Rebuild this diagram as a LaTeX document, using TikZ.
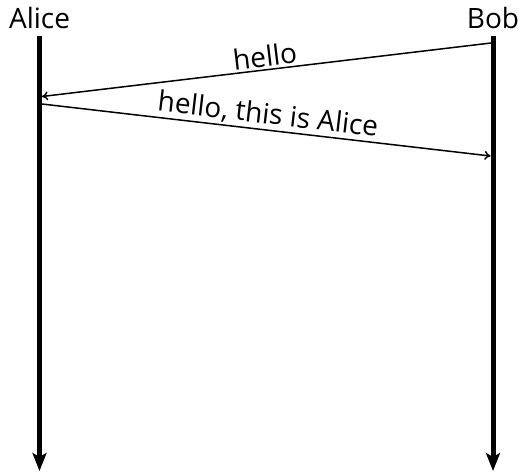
\documentclass[tikz,border=0pt]{standalone}
\usepackage{fontspec}
\setmainfont{Open Sans}
\usetikzlibrary{arrows.meta}
\tikzset{
  actor/.style={anchor=base, inner sep=0pt, font=\fontsize{28}{34}\selectfont},
  lifeline/.style={line width=5pt, -{Stealth[length=18pt, width=14pt, inset=4pt]}},
  message/.style={line width=1.5pt, -{To[length=6pt, width=9pt]}},
  msglabel/.style={midway, above, sloped, inner sep=2pt, font=\fontsize{28}{34}\selectfont}
}
\begin{document}
\begin{tikzpicture}[x=1pt, y=-1pt]
    \useasboundingbox (0,0) rectangle (522,474);

    \node[actor] (alice) at (39.5,28) {Alice};
    \node[actor] (bob) at (493,28) {Bob};

    \coordinate (aliceTop) at (39.5,36);
    \coordinate (bobTop) at (493,36);
    \coordinate (aliceEnd) at (39.5,471);
    \coordinate (bobEnd) at (493,471);

    \draw[lifeline] (aliceTop) -- (aliceEnd);
    \draw[lifeline] (bobTop) -- (bobEnd);

    % messages
    \coordinate (bobOut) at (491,43);
    \coordinate (aliceIn) at (42,96.5);
    \coordinate (aliceOut) at (42,104);
    \coordinate (bobIn) at (490.5,156);

    \draw[message] (bobOut) -- (aliceIn) node[msglabel] {hello};
    \draw[message] (aliceOut) -- (bobIn) node[msglabel] {hello, this is Alice};
\end{tikzpicture}
\end{document}
